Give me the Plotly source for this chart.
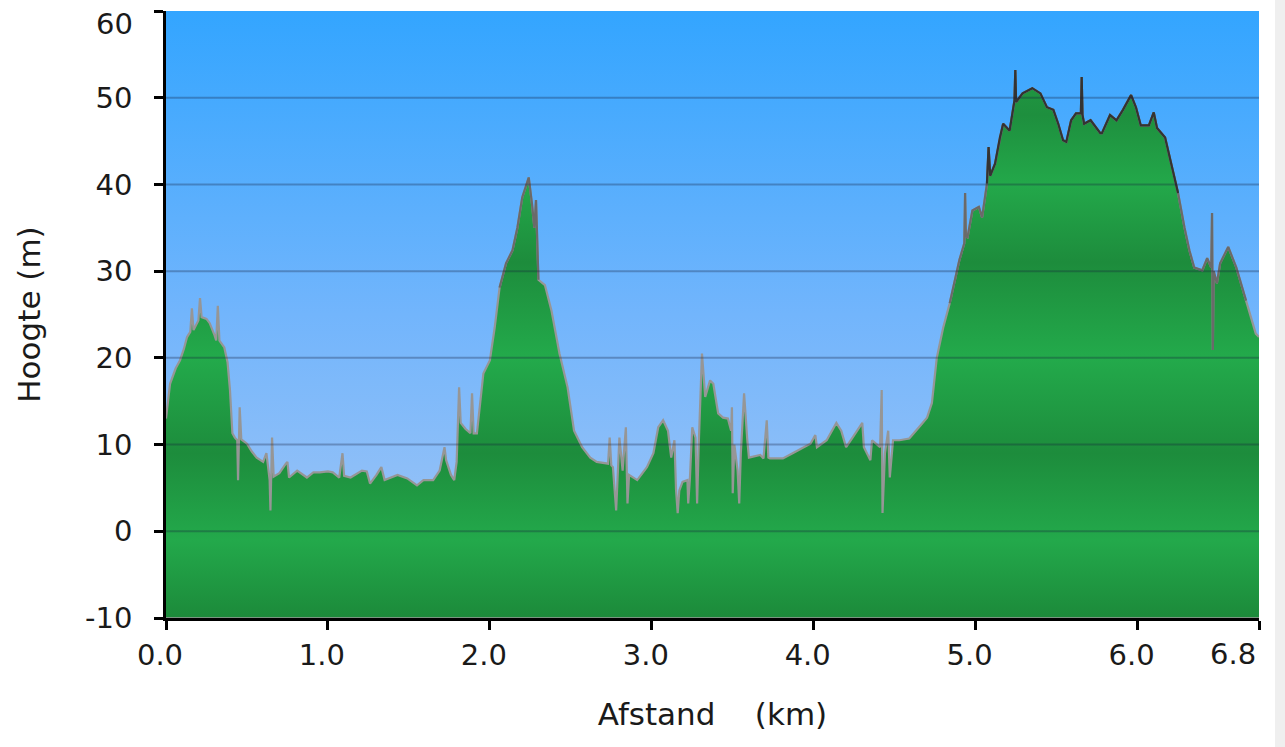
import plotly.graph_objects as go

distance_km = [
    0.000, 0.025, 0.060, 0.086, 0.110, 0.130, 0.150, 0.160, 0.170, 0.200, 0.210, 0.220, 0.250, 0.270,
    0.300, 0.310, 0.320, 0.330, 0.360, 0.380, 0.395, 0.410, 0.425, 0.440, 0.445, 0.450, 0.455, 0.465,
    0.500, 0.530, 0.560, 0.600, 0.620, 0.630, 0.640, 0.645, 0.650, 0.655, 0.665, 0.700, 0.740, 0.750,
    0.760, 0.810, 0.870, 0.910, 0.950, 1.000, 1.030, 1.070, 1.090, 1.100, 1.140, 1.210, 1.240, 1.260,
    1.300, 1.330, 1.350, 1.430, 1.490, 1.550, 1.590, 1.650, 1.690, 1.720, 1.730, 1.760, 1.780, 1.795,
    1.810, 1.820, 1.850, 1.880, 1.890, 1.900, 1.920, 1.960, 2.000, 2.030, 2.060, 2.100, 2.140, 2.170,
    2.200, 2.240, 2.260, 2.275, 2.285, 2.290, 2.300, 2.340, 2.380, 2.430, 2.480, 2.520, 2.570, 2.620,
    2.660, 2.730, 2.740, 2.750, 2.760, 2.780, 2.790, 2.800, 2.820, 2.840, 2.850, 2.860, 2.910, 2.970,
    3.010, 3.040, 3.070, 3.100, 3.120, 3.140, 3.150, 3.160, 3.170, 3.190, 3.220, 3.225, 3.235, 3.250,
    3.270, 3.280, 3.290, 3.300, 3.310, 3.330, 3.360, 3.380, 3.410, 3.440, 3.470, 3.490, 3.495, 3.500,
    3.510, 3.530, 3.540, 3.550, 3.570, 3.590, 3.600, 3.670, 3.690, 3.710, 3.720, 3.730, 3.810, 3.870,
    3.930, 3.980, 4.010, 4.020, 4.080, 4.140, 4.170, 4.200, 4.240, 4.300, 4.310, 4.350, 4.360, 4.410,
    4.420, 4.425, 4.440, 4.460, 4.470, 4.490, 4.530, 4.590, 4.650, 4.700, 4.730, 4.750, 4.760, 4.800,
    4.840, 4.900, 4.930, 4.935, 4.940, 4.950, 4.980, 5.020, 5.040, 5.070, 5.080, 5.090, 5.120, 5.150,
    5.170, 5.210, 5.240, 5.245, 5.250, 5.290, 5.350, 5.400, 5.440, 5.480, 5.510, 5.540, 5.560, 5.590,
    5.620, 5.650, 5.655, 5.660, 5.670, 5.710, 5.770, 5.780, 5.830, 5.870, 5.910, 5.960, 5.990, 6.020,
    6.070, 6.100, 6.120, 6.170, 6.210, 6.250, 6.290, 6.320, 6.350, 6.400, 6.430, 6.455, 6.460, 6.465,
    6.470, 6.490, 6.510, 6.560, 6.610, 6.670, 6.730, 6.750,
]
elevation_m = [
    13.0, 17.0, 18.8, 19.7, 21.0, 22.4, 23.0, 25.7, 23.2, 24.3, 26.9, 24.7, 24.5, 24.0,
    22.6, 22.0, 26.0, 22.0, 21.2, 19.5, 16.3, 11.3, 10.8, 10.5, 5.9, 10.8, 14.3, 10.6,
    10.1, 9.2, 8.5, 8.0, 9.0, 7.5, 5.9, 2.4, 6.5, 10.8, 6.3, 6.7, 7.8, 8.0,
    6.2, 7.0, 6.2, 6.8, 6.8, 6.9, 6.8, 6.2, 9.0, 6.4, 6.2, 7.0, 6.9, 5.5,
    6.5, 7.4, 5.9, 6.5, 6.1, 5.3, 5.9, 5.9, 7.0, 9.7, 8.2, 6.5, 5.9, 8.0,
    16.6, 12.5, 11.8, 11.3, 15.9, 11.3, 11.3, 18.2, 19.7, 23.5, 28.1, 30.9, 32.4, 35.0,
    38.5, 40.8, 37.8, 35.0, 38.2, 33.9, 29.0, 28.4, 25.5, 20.5, 16.6, 11.6, 9.7, 8.5,
    8.0, 7.8, 10.8, 7.6, 7.4, 2.4, 7.2, 10.8, 7.0, 12.0, 3.2, 6.5, 5.9, 7.4,
    9.0, 12.0, 12.8, 11.6, 8.5, 10.5, 4.7, 2.1, 4.7, 5.7, 5.9, 3.2, 5.9, 12.0,
    10.8, 3.2, 10.0, 16.3, 20.5, 15.5, 17.4, 17.0, 13.6, 13.1, 13.0, 11.6, 14.3, 4.4,
    10.0, 7.0, 3.2, 9.0, 15.9, 10.5, 8.5, 8.8, 8.4, 12.8, 8.5, 8.4, 8.4, 9.0,
    9.6, 10.1, 11.1, 9.7, 10.5, 12.5, 11.6, 9.7, 10.8, 12.5, 9.7, 8.2, 10.5, 9.7,
    16.3, 2.1, 9.0, 11.6, 6.2, 10.5, 10.5, 10.7, 12.0, 13.1, 14.8, 18.6, 20.0, 23.5,
    26.3, 31.3, 33.2, 39.0, 34.0, 33.9, 37.0, 37.4, 36.2, 40.1, 44.3, 41.0, 42.4, 45.4,
    47.0, 46.2, 49.7, 53.2, 49.5, 50.5, 51.1, 50.5, 48.9, 48.6, 47.0, 45.1, 44.9, 47.4,
    48.2, 48.2, 52.4, 48.0, 47.0, 47.4, 45.9, 45.9, 48.0, 47.4, 48.6, 50.3, 48.9, 46.8,
    46.8, 48.3, 46.5, 45.4, 42.0, 39.0, 35.0, 32.4, 30.4, 30.1, 31.5, 30.4, 36.7, 20.9,
    30.0, 28.6, 30.9, 32.8, 30.4, 26.6, 22.8, 22.4,
]

x_tick_values = [0, 1, 2, 3, 4, 5, 6, 6.75]
x_tick_labels = ["0.0", "1.0", "2.0", "3.0", "4.0", "5.0", "6.0", ""]
end_label = "6.8"
y_tick_values = [-10, 0, 10, 20, 30, 40, 50, 60]
y_tick_labels = ["-10", "0", "10", "20", "30", "40", "50", ""]
top_label = "60"
X_RANGE = [0, 6.75]
Y_RANGE = [-10, 60]

FONT = "DejaVu Sans"
TICK_SIZE = 29
TITLE_SIZE = 31

fig = go.Figure()

# background gradient panel covering the axis range
fig.add_trace(go.Scatter(
    x=[X_RANGE[0], X_RANGE[1], X_RANGE[1], X_RANGE[0], X_RANGE[0]],
    y=[Y_RANGE[0], Y_RANGE[0], Y_RANGE[1], Y_RANGE[1], Y_RANGE[0]],
    mode="lines", fill="toself", line=dict(width=0),
    fillgradient=dict(type="vertical", start=Y_RANGE[0], stop=Y_RANGE[1],
                      colorscale=[[0, "#A6C7F4"], [0.5, "#72B5FC"], [1, "#33A5FF"]]),
    hoverinfo="skip", showlegend=False,
))

# baseline for the filled area
fig.add_trace(go.Scatter(
    x=distance_km, y=[Y_RANGE[0]] * len(distance_km), mode="lines",
    line=dict(color="#9a9a9a", width=1.5), hoverinfo="skip", showlegend=False,
))

def p(v):
    return (v - Y_RANGE[0]) / (Y_RANGE[1] - Y_RANGE[0])

green_scale = [
    [p(-10), "#1C8A3A"], [p(-1), "#23A94B"], [p(9), "#1D8C3C"], [p(20), "#23AA4B"],
    [p(31), "#1D8C3C"], [p(40), "#23A84A"], [p(48), "#1E8F3E"], [p(60), "#22A548"],
]

fig.add_trace(go.Scatter(
    x=distance_km, y=elevation_m, mode="lines", fill="tonexty",
    fillgradient=dict(type="vertical", start=Y_RANGE[0], stop=Y_RANGE[1], colorscale=green_scale),
    line=dict(color="#969696", width=2.2), showlegend=False,
    hovertemplate="%{x:.2f} km<br>%{y:.1f} m<extra></extra>",
))

# darker outline on the high parts of the profile
for thr, col in [(30, "#6a6a6a"), (42, "#333333")]:
    masked = []
    n = len(elevation_m)
    for i, v in enumerate(elevation_m):
        near = v >= thr or (i > 0 and elevation_m[i - 1] >= thr) or (i < n - 1 and elevation_m[i + 1] >= thr)
        masked.append(v if near else None)
    fig.add_trace(go.Scatter(
        x=distance_km, y=masked, mode="lines", line=dict(color=col, width=2.2),
        hoverinfo="skip", showlegend=False, connectgaps=False,
    ))

shapes = []
for v in y_tick_values[1:-1]:
    shapes.append(dict(type="line", xref="paper", x0=0, x1=1, yref="y", y0=v, y1=v,
                       line=dict(color="rgba(20,30,60,0.30)", width=2), layer="above"))
# light strip at the right edge of the page
shapes.append(dict(type="rect", xref="paper", yref="paper", x0=1.0146, x1=1.03, y0=-0.25, y1=1.05,
                   fillcolor="#EFEFEF", line=dict(width=0), layer="below"))

label_font = dict(family=FONT, size=TICK_SIZE, color="#1a1a1a")
annotations = [
    dict(text=top_label, xref="paper", x=0, yref="y", y=Y_RANGE[1], xanchor="right", yanchor="top",
         xshift=-31, yshift=6, showarrow=False, font=label_font),
    dict(text=end_label, xref="x", x=X_RANGE[1], yref="paper", y=0, xanchor="right", yanchor="middle",
         xshift=-1, yshift=-36, showarrow=False, font=label_font),
]

fig.update_layout(
    width=1285, height=747,
    margin=dict(l=166, r=26, t=11, b=129, autoexpand=False),
    paper_bgcolor="white", plot_bgcolor="white",
    font=dict(family=FONT, size=TICK_SIZE, color="#1a1a1a"),
    shapes=shapes, annotations=annotations,
    showlegend=False,
)
fig.update_xaxes(
    range=X_RANGE, tickvals=x_tick_values, ticktext=x_tick_labels, automargin=False,
    showgrid=False, zeroline=False, showline=True, linecolor="black", linewidth=2.5,
    ticks="outside", ticklen=9, tickwidth=3, tickcolor="black", ticklabelshift=-6,
    title=dict(text="Afstand\u00a0\u00a0\u00a0\u00a0(km)", font=dict(family=FONT, size=TITLE_SIZE), standoff=33),
    layer="above traces",
)
fig.update_yaxes(
    range=Y_RANGE, tickvals=y_tick_values, ticktext=y_tick_labels, automargin=False,
    showgrid=False, zeroline=False, showline=True, linecolor="black", linewidth=2.5,
    ticks="outside", ticklen=9, tickwidth=3, tickcolor="black", ticklabelstandoff=16,
    title=dict(text="Hoogte (m)", font=dict(family=FONT, size=TITLE_SIZE), standoff=36),
    layer="above traces",
)

fig.write_html(
    "out.html",
    config={"responsive": False, "displayModeBar": False},
    post_script="document.body.style.margin='0';document.body.style.overflow='hidden';",
)
